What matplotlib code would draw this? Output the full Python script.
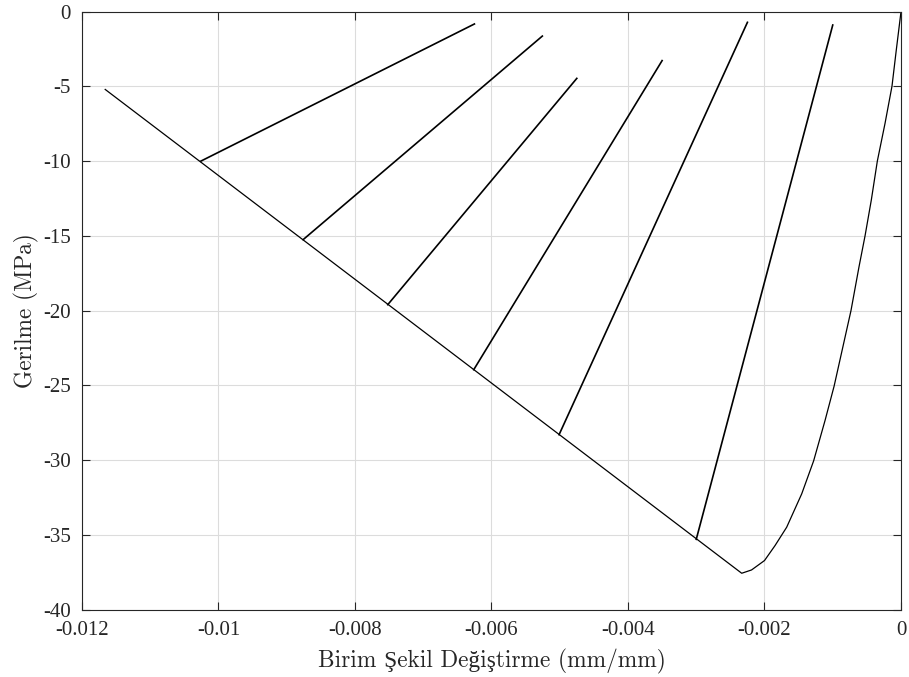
import matplotlib
matplotlib.use("Agg")
import matplotlib.pyplot as plt

# Envelope (ascending branch, from origin to peak)
asc_strain = [0.0, -0.000069, -0.000132, -0.000234, -0.000347, -0.000435, -0.000527,
              -0.000615, -0.000733, -0.000980, -0.001113, -0.001280, -0.001455,
              -0.001675, -0.001846, -0.002000, -0.002190, -0.002334]
asc_stress = [0.0, -2.56, -4.98, -7.47, -10.0, -12.6, -15.0,
              -17.06, -20.0, -25.05, -27.35, -30.05, -32.26,
              -34.49, -35.72, -36.72, -37.35, -37.57]
# Envelope (descending branch, from peak to end)
desc_strain = [-0.002334, -0.01166]
desc_stress = [-37.57, -5.2]

# Unloading lines
unl_start_strain = [-0.01026, -0.00876, -0.00752, -0.00626, -0.00501, -0.00300]
unl_start_stress = [-10.0, -15.25, -19.6, -23.95, -28.3, -35.3]
unl_end_strain = [-0.00625, -0.005255, -0.00475, -0.00350, -0.00225, -0.00100]
unl_end_stress = [-0.82, -1.63, -4.46, -3.27, -0.71, -0.89]

xticks = [-0.012, -0.010, -0.008, -0.006, -0.004, -0.002, 0.0]
xticklabels = ["-0.012", "-0.01", "-0.008", "-0.006", "-0.004", "-0.002", "0"]
yticks = [-40, -35, -30, -25, -20, -15, -10, -5, 0]
yticklabels = ["-40", "-35", "-30", "-25", "-20", "-15", "-10", "-5", "0"]

plt.rcParams['font.family'] = ['Liberation Serif', 'DejaVu Serif']
plt.rcParams['axes.unicode_minus'] = False

fig = plt.figure(figsize=(9.09, 6.77), dpi=100)
ax = fig.add_axes([0.0902, 0.0996, 0.9010, 0.8831])

env_x = asc_strain + desc_strain[1:]
env_y = asc_stress + desc_stress[1:]
ax.plot(env_x, env_y, color='black', lw=0.9, solid_joinstyle='round')
for xs, ys, xe, ye in zip(unl_start_strain, unl_start_stress, unl_end_strain, unl_end_stress):
    ax.plot([xs, xe], [ys, ye], color='black', lw=1.2)

ax.set_xlim(-0.012, 0)
ax.set_ylim(-40, 0)
ax.set_xticks(xticks)
ax.set_xticklabels(xticklabels)
ax.set_yticks(yticks)
ax.set_yticklabels(yticklabels)
ax.grid(True, color='#dcdcdc', lw=0.8)
ax.set_axisbelow(True)
ax.tick_params(direction='in', top=True, right=True, length=6, width=0.8,
               labelsize=15, color='#262626', labelcolor='#262626')
ax.tick_params(axis='x', pad=8)
ax.tick_params(axis='y', pad=8)
for s in ax.spines.values():
    s.set_color('#262626')
    s.set_linewidth(0.8)
lab_font = ['cmr10', 'Liberation Serif', 'DejaVu Serif']
ax.set_xlabel("Birim Şekil Değiştirme (mm/mm)", fontsize=16.8, labelpad=7,
              family=lab_font, color='#262626')
ax.set_ylabel("Gerilme (MPa)", fontsize=16.8, labelpad=3,
              family=lab_font, color='#262626')

fig.savefig("out.png", dpi=100)
